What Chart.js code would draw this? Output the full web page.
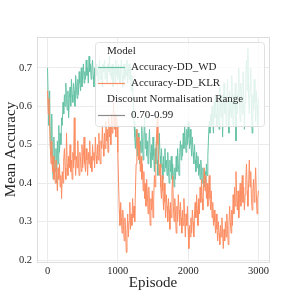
<!DOCTYPE html>
<html lang="en">
<head>
    <meta charset="UTF-8">
    <title>Mean Accuracy by Episode</title>
    <script src="https://cdn.jsdelivr.net/npm/chart.js"></script>
    <style>
        html, body { margin: 0; padding: 0; background: #ffffff; }
        #wrap { width: 299px; height: 299px; }
    </style>
</head>
<body>
<div id="wrap"><canvas id="accChart" width="299" height="299"></canvas></div>
<script>
// episodes sampled every 10 steps, 0..3000
const episodes = [];
for (let e = 0; e <= 3000; e += 10) episodes.push(e);

const accWD = [
    0.70, 0.61, 0.55, 0.64, 0.50, 0.47, 0.58, 0.44, 0.41, 0.52,
    0.46, 0.43, 0.49, 0.40, 0.51, 0.45, 0.55, 0.48, 0.53, 0.50,
    0.57,
    0.55, 0.61, 0.58, 0.63, 0.60, 0.66, 0.62, 0.59, 0.64, 0.57,
    0.62, 0.65, 0.60, 0.67, 0.63, 0.61, 0.66, 0.64, 0.60, 0.68,
    0.65, 0.62, 0.67, 0.63, 0.69, 0.66, 0.64, 0.70, 0.65, 0.68,
    0.71, 0.66, 0.69, 0.67, 0.72, 0.68, 0.70, 0.66, 0.73, 0.69,
    0.71, 0.67, 0.70, 0.72, 0.68, 0.65, 0.70, 0.67, 0.71, 0.68,
    0.70, 0.66, 0.69, 0.72, 0.67, 0.70, 0.68, 0.65, 0.71, 0.69,
    0.72, 0.67, 0.70, 0.68, 0.66, 0.71, 0.69, 0.73, 0.68, 0.70,
    0.67, 0.71, 0.65, 0.69, 0.70, 0.66, 0.72, 0.68, 0.70, 0.67,
    0.71, 0.69, 0.66, 0.70, 0.72, 0.68, 0.65, 0.69, 0.71, 0.67,
    0.70, 0.68, 0.72, 0.66, 0.69, 0.71, 0.67, 0.70, 0.64, 0.68,
    0.66, 0.61, 0.56, 0.52, 0.49, 0.54, 0.50, 0.47, 0.53, 0.49,
    0.45, 0.51, 0.48, 0.55, 0.50, 0.46, 0.52, 0.57, 0.49, 0.53,
    0.47, 0.51, 0.45, 0.50, 0.54, 0.48, 0.44, 0.50, 0.46, 0.52,
    0.47, 0.43, 0.49, 0.45, 0.51, 0.46, 0.42, 0.48, 0.53, 0.47,
    0.44, 0.49, 0.45, 0.41, 0.47, 0.43, 0.49, 0.44, 0.46, 0.42,
    0.48, 0.44, 0.40, 0.46, 0.43, 0.47, 0.41, 0.45, 0.42, 0.39,
    0.44, 0.41, 0.47, 0.43, 0.49, 0.45, 0.42, 0.48, 0.51, 0.46,
    0.50, 0.47, 0.53, 0.49, 0.55, 0.51, 0.48, 0.54, 0.50, 0.56,
    0.52, 0.49, 0.54, 0.50, 0.47, 0.52, 0.48, 0.45, 0.50, 0.46,
    0.43, 0.48, 0.44, 0.47, 0.42, 0.45, 0.41, 0.46, 0.43, 0.40,
    0.44, 0.41, 0.39, 0.43, 0.40, 0.45, 0.42, 0.47, 0.52, 0.56,
    0.53, 0.58, 0.55, 0.60, 0.56, 0.53, 0.61, 0.57, 0.63, 0.58,
    0.55, 0.62, 0.59, 0.54, 0.65, 0.60, 0.57, 0.63, 0.52, 0.60,
    0.66, 0.58, 0.62, 0.55, 0.61, 0.67, 0.59, 0.53, 0.64, 0.60,
    0.57, 0.68, 0.62, 0.55, 0.63, 0.59, 0.66, 0.51, 0.61, 0.58,
    0.64, 0.70, 0.60, 0.56, 0.66, 0.62, 0.58, 0.69, 0.63, 0.54,
    0.61, 0.67, 0.72, 0.64, 0.75, 0.62, 0.58, 0.66, 0.70, 0.60,
    0.53, 0.63, 0.59, 0.67, 0.61, 0.56, 0.64, 0.60, 0.55, 0.62
];

const accKLR = [
    0.64, 0.58, 0.62, 0.55, 0.49, 0.45, 0.51, 0.43, 0.47, 0.41,
    0.44, 0.40, 0.46, 0.42, 0.38, 0.44, 0.41, 0.45, 0.39, 0.42,
    0.36,
    0.43, 0.40, 0.46, 0.49, 0.44, 0.41, 0.53, 0.45, 0.42, 0.47,
    0.44, 0.50, 0.43, 0.46, 0.41, 0.48, 0.44, 0.57, 0.46, 0.42,
    0.47, 0.44, 0.51, 0.45, 0.42, 0.48, 0.46, 0.43, 0.50, 0.44,
    0.47, 0.52, 0.45, 0.43, 0.49, 0.46, 0.42, 0.48, 0.45, 0.51,
    0.44, 0.47, 0.43, 0.50, 0.46, 0.48, 0.44, 0.52, 0.47, 0.45,
    0.50, 0.46, 0.53, 0.48, 0.45, 0.51, 0.49, 0.55, 0.50, 0.47,
    0.53, 0.49, 0.56, 0.51, 0.54, 0.48, 0.57, 0.52, 0.55, 0.50,
    0.58, 0.53, 0.56, 0.61, 0.54, 0.58, 0.52, 0.57, 0.55, 0.48,
    0.40, 0.33, 0.29, 0.35, 0.31, 0.27, 0.33, 0.29, 0.25, 0.31,
    0.28, 0.22, 0.27, 0.32, 0.26, 0.30, 0.35, 0.28, 0.32, 0.29,
    0.36, 0.31, 0.34, 0.30, 0.38, 0.45, 0.54, 0.49, 0.52, 0.46,
    0.50, 0.43, 0.47, 0.41, 0.45, 0.38, 0.43, 0.36, 0.40, 0.34,
    0.41, 0.37, 0.32, 0.39, 0.35, 0.29, 0.36, 0.33, 0.38, 0.31,
    0.36, 0.42, 0.39, 0.47, 0.52, 0.57, 0.50, 0.46, 0.42, 0.45,
    0.39, 0.36, 0.42, 0.38, 0.33, 0.40, 0.35, 0.31, 0.37, 0.34,
    0.30, 0.36, 0.33, 0.28, 0.35, 0.31, 0.38, 0.42, 0.34, 0.30,
    0.36, 0.32, 0.27, 0.34, 0.30, 0.37, 0.33, 0.29, 0.35, 0.31,
    0.27, 0.33, 0.29, 0.36, 0.31, 0.26, 0.32, 0.29, 0.34, 0.28,
    0.23, 0.29, 0.26, 0.31, 0.27, 0.33, 0.30, 0.26, 0.32, 0.35,
    0.31, 0.37, 0.33, 0.29, 0.36, 0.32, 0.39, 0.35, 0.41, 0.36,
    0.33, 0.40, 0.44, 0.38, 0.42, 0.36, 0.40, 0.34, 0.38, 0.42,
    0.36, 0.33, 0.38, 0.31, 0.35, 0.29, 0.33, 0.30, 0.27, 0.32,
    0.28, 0.25, 0.30, 0.27, 0.24, 0.29, 0.26, 0.31, 0.27, 0.23,
    0.28, 0.25, 0.30, 0.26, 0.32, 0.28, 0.24, 0.29, 0.34, 0.30,
    0.27, 0.33, 0.29, 0.37, 0.32, 0.39, 0.34, 0.43, 0.37, 0.33,
    0.38, 0.31, 0.36, 0.40, 0.34, 0.38, 0.42, 0.35, 0.39, 0.33,
    0.37, 0.41, 0.45, 0.38, 0.34, 0.40, 0.46, 0.39, 0.43, 0.36,
    0.33, 0.38, 0.41, 0.35, 0.39, 0.44, 0.37, 0.32, 0.36, 0.38
];

const xTicks = [0, 1000, 2000, 3000];
const yTicks = [0.2, 0.3, 0.4, 0.5, 0.6, 0.7];

const SERIF = "'Liberation Serif', 'DejaVu Serif', serif";
const GREEN = '#66c2a5';
const ORANGE = '#fc8d62';
const GRID = '#ebebeb';

function toPoints(ys) {
    return ys.map((y, i) => ({ x: episodes[i], y: y }));
}

// frame round the plot area (seaborn whitegrid spines)
const framePlugin = {
    id: 'frame',
    beforeDatasetsDraw(chart) {
        const a = chart.chartArea, ctx = chart.ctx;
        ctx.save();
        ctx.strokeStyle = '#dddddd';
        ctx.lineWidth = 1;
        ctx.strokeRect(Math.round(a.left) + 0.5, Math.round(a.top) + 0.5,
            Math.round(a.right - a.left), Math.round(a.bottom - a.top));
        ctx.restore();
    }
};

// seaborn-style legend with two section titles
const legendPlugin = {
    id: 'seaLegend',
    afterDatasetsDraw(chart) {
        const ctx = chart.ctx;
        const bx = 95, by = 42, bw = 169, bh = 84;
        ctx.save();
        ctx.beginPath();
        ctx.roundRect(bx + 0.5, by + 0.5, bw, bh, 3);
        ctx.fillStyle = 'rgba(255,255,255,0.8)';
        ctx.fill();
        ctx.strokeStyle = '#e0e0e0';
        ctx.lineWidth = 1;
        ctx.stroke();

        ctx.font = '11px ' + SERIF;
        ctx.fillStyle = '#262626';
        ctx.textBaseline = 'middle';
        const rows = [
            { text: 'Model', title: true },
            { text: chart.data.datasets[1].label, color: GREEN },
            { text: chart.data.datasets[0].label, color: ORANGE },
            { text: 'Discount Normalisation Range', title: true },
            { text: '0.70-0.99', color: '#8c8c8c' }
        ];
        rows.forEach((r, i) => {
            const y = 51 + i * 16;
            if (r.title) {
                ctx.fillText(r.text, 107, y);
            } else {
                ctx.beginPath();
                ctx.strokeStyle = r.color;
                ctx.lineWidth = 1.2;
                ctx.moveTo(98, y + 0.5);
                ctx.lineTo(125, y + 0.5);
                ctx.stroke();
                ctx.fillText(r.text, 131, y);
            }
        });
        ctx.restore();
    }
};

new Chart(document.getElementById('accChart'), {
    type: 'line',
    data: {
        datasets: [
            {
                label: 'Accuracy-DD_KLR',
                data: toPoints(accKLR),
                borderColor: ORANGE,
                borderWidth: 1,
                pointRadius: 0,
                tension: 0,
                order: 1
            },
            {
                label: 'Accuracy-DD_WD',
                data: toPoints(accWD),
                borderColor: GREEN,
                borderWidth: 1,
                pointRadius: 0,
                tension: 0,
                order: 2
            }
        ]
    },
    options: {
        responsive: false,
        animation: false,
        devicePixelRatio: 1,
        layout: { padding: { left: 0, top: 37, right: 30, bottom: 0 } },
        plugins: {
            legend: { display: false },
            tooltip: { enabled: false }
        },
        scales: {
            x: {
                type: 'linear',
                min: -150,
                max: 3150,
                afterFit(scale) { scale.height = 37; },
                afterBuildTicks(scale) { scale.ticks = xTicks.map(v => ({ value: v })); },
                grid: { color: GRID, drawTicks: false },
                border: { display: false },
                ticks: {
                    padding: 3,
                    color: '#262626',
                    font: { family: SERIF, size: 10.5 },
                    callback: v => String(v)
                },
                title: {
                    display: true,
                    text: 'Episode',
                    color: '#262626',
                    font: { family: SERIF, size: 15 },
                    padding: { top: 0, bottom: 7 }
                }
            },
            y: {
                min: 0.195,
                max: 0.78,
                afterFit(scale) { scale.width = 37; },
                afterBuildTicks(scale) { scale.ticks = yTicks.map(v => ({ value: v })); },
                grid: { color: GRID, drawTicks: false },
                border: { display: false },
                ticks: {
                    padding: 5,
                    color: '#262626',
                    font: { family: SERIF, size: 10.5 },
                    callback: v => Number(v).toFixed(1)
                },
                title: {
                    display: true,
                    text: 'Mean Accuracy',
                    color: '#262626',
                    font: { family: SERIF, size: 15 },
                    padding: { top: 2, bottom: 0 }
                }
            }
        }
    },
    plugins: [framePlugin, legendPlugin]
});
</script>
</body>
</html>
